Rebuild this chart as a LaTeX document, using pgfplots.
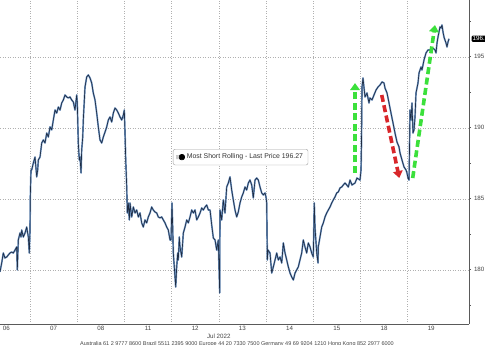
\documentclass[border=0pt]{standalone}
\usepackage{fontspec}
\setmainfont{Liberation Sans}
\usepackage{pgfplots}
\usepackage{pgfplotstable}
\pgfplotsset{compat=1.18}
\usetikzlibrary{arrows.meta}
\definecolor{linedark}{HTML}{1F2D44}
\definecolor{lineblue}{HTML}{6F95C4}
\definecolor{arrgreen}{HTML}{3BE03B}
\definecolor{arrred}{HTML}{D8262A}
\definecolor{gridc}{HTML}{B0B0B0}
\definecolor{axc}{HTML}{5A5A5A}
\definecolor{txt}{HTML}{454545}

\pgfplotstableread{
x y
0.364 179.85
0.400 180.48
0.434 181.18
0.470 180.83
0.506 180.90
0.540 181.04
0.576 181.18
0.612 181.25
0.646 181.18
0.682 181.39
0.718 181.61
0.731 179.99
0.752 182.10
0.788 182.59
0.809 182.31
0.824 182.80
0.858 182.31
0.894 182.59
0.930 183.01
0.964 182.31
0.985 181.18
1.000 182.80
1.006 185.13
1.021 187.03
1.036 187.03
1.070 187.52
1.106 187.94
1.142 186.54
1.163 187.03
1.176 187.73
1.212 187.94
1.248 188.93
1.282 189.14
1.318 188.93
1.354 189.63
1.388 189.35
1.424 190.06
1.460 189.85
1.494 190.55
1.530 191.25
1.566 191.04
1.600 191.46
1.636 191.25
1.672 191.75
1.706 191.96
1.742 192.31
1.778 192.17
1.811 192.10
1.847 192.17
1.883 191.96
1.917 191.82
1.953 191.25
1.989 192.31
2.002 191.75
2.023 188.93
2.044 187.73
2.059 187.94
2.081 186.82
2.095 188.44
2.117 189.35
2.129 190.55
2.165 192.87
2.201 193.58
2.235 193.72
2.271 193.51
2.307 193.15
2.341 192.45
2.377 191.96
2.413 191.04
2.447 190.06
2.483 189.14
2.519 188.93
2.553 189.35
2.589 189.70
2.625 190.06
2.659 190.55
2.695 190.76
2.731 190.41
2.765 191.04
2.801 191.39
2.837 191.25
2.871 191.04
2.907 190.76
2.943 190.55
2.977 190.90
2.998 191.25
3.013 189.63
3.028 187.73
3.049 185.83
3.062 184.00
3.083 184.70
3.104 183.51
3.119 184.70
3.155 183.72
3.189 184.42
3.225 184.00
3.261 184.21
3.295 183.72
3.331 184.00
3.366 183.30
3.400 183.01
3.436 183.51
3.472 183.30
3.506 183.72
3.542 184.00
3.578 184.42
3.612 184.21
3.648 184.07
3.684 184.00
3.718 183.72
3.754 183.65
3.790 183.72
3.824 183.51
3.860 183.30
3.896 183.01
3.930 182.80
3.966 182.10
3.987 182.10
4.008 184.70
4.023 183.01
4.036 181.18
4.072 179.49
4.087 178.79
4.108 180.20
4.129 181.18
4.142 180.69
4.163 182.31
4.178 181.61
4.214 180.90
4.248 182.59
4.284 183.01
4.320 183.51
4.354 183.30
4.390 183.72
4.426 184.21
4.460 184.00
4.496 184.21
4.532 183.51
4.566 183.72
4.602 184.00
4.638 184.35
4.672 184.21
4.708 184.42
4.744 184.56
4.778 184.21
4.814 184.21
4.850 183.15
4.884 182.24
4.920 182.10
4.955 181.39
4.989 182.10
5.019 178.37
5.025 184.21
5.061 183.51
5.095 184.92
5.131 184.00
5.167 185.83
5.201 186.11
5.237 186.54
5.273 185.62
5.307 184.92
5.343 184.21
5.379 183.72
5.413 184.07
5.449 184.70
5.485 185.13
5.519 185.41
5.555 185.83
5.591 185.62
5.625 186.11
5.661 186.32
5.697 185.97
5.731 185.06
5.767 186.32
5.803 186.46
5.837 186.32
5.873 185.83
5.909 185.41
5.943 185.27
5.979 185.41
6.000 185.13
6.015 184.70
6.028 180.69
6.042 181.39
6.085 181.18
6.121 179.77
6.155 180.20
6.191 180.69
6.227 181.18
6.261 180.69
6.297 180.90
6.333 180.48
6.367 181.89
6.403 181.18
6.439 180.69
6.473 180.20
6.509 179.77
6.545 179.49
6.579 179.28
6.615 179.77
6.650 179.99
6.684 180.20
6.720 180.69
6.756 181.18
6.790 182.10
6.826 181.61
6.862 181.18
6.896 181.89
6.932 181.61
6.968 181.18
7.002 180.90
7.023 184.70
7.038 183.01
7.074 181.18
7.102 180.48
7.108 181.61
7.144 182.31
7.180 183.01
7.214 183.30
7.250 183.72
7.286 184.00
7.320 184.21
7.356 184.42
7.392 184.70
7.426 184.92
7.462 185.13
7.498 185.41
7.532 185.48
7.568 185.76
7.604 185.83
7.638 185.97
7.674 186.11
7.710 185.97
7.744 185.83
7.780 186.32
7.822 185.97
7.886 186.11
7.928 186.46
7.992 186.32
8.013 187.03
8.024 189.14
8.034 192.87
8.055 193.51
8.097 192.17
8.140 192.45
8.182 191.75
8.203 192.10
8.246 191.96
8.288 192.31
8.331 192.66
8.373 192.87
8.415 193.01
8.458 193.23
8.500 193.15
8.521 192.80
8.564 192.45
8.606 191.75
8.648 191.04
8.691 190.34
8.733 189.63
8.775 189.00
8.818 188.65
8.839 188.23
8.881 187.73
8.924 187.24
8.966 187.03
8.987 186.82
9.008 186.46
9.030 186.32
9.040 188.44
9.051 191.25
9.072 190.55
9.093 191.75
9.114 189.63
9.136 189.85
9.157 190.76
9.178 192.45
9.220 193.15
9.242 193.86
9.284 194.28
9.305 194.07
9.347 194.77
9.390 195.27
9.432 195.48
9.475 195.48
9.517 195.62
9.559 195.55
9.580 195.48
9.602 195.27
9.623 195.97
9.644 196.39
9.665 196.75
9.686 197.10
9.708 197.03
9.729 197.24
9.750 196.75
9.771 196.39
9.792 196.18
9.814 195.97
9.835 195.69
9.856 196.04
9.877 196.27
}\pricedata

\begin{document}
\begin{tikzpicture}
\begin{axis}[
  name=ax,
  scale only axis, width=469pt, height=324pt,
  xmin=0.364, xmax=10.301, ymin=176.18, ymax=199.0,
  axis x line*=bottom, axis y line*=right,
  axis line style={draw=axc, line width=0.7pt, -},
  clip=false,
  xtick={1,2,3,4,5,6,7,8,9}, xticklabels={},
  xtick style={draw=none},
  extra x ticks={0.5,1.5,2.5,3.5,4.5,5.5,6.5,7.5,8.5,9.5},
  extra x tick labels={06,07,08,11,12,13,14,15,18,19},
  extra x tick style={grid=none, major tick length=0pt, xtick style={draw=none}},
  xmajorgrids, ymajorgrids,
  major grid style={draw=gridc, line width=0.5pt, dotted},
  ytick={180,185,190,195}, yticklabels={180,185,190,195},
  minor ytick={177.5,182.5,187.5,192.5,197.5},
  tick align=outside,
  major tick length=2pt, minor tick length=1.5pt,
  ytick style={draw=axc, line width=0.7pt},
  tick label style={font=\fontsize{6.2}{7}\selectfont, text=txt},
  xticklabel style={yshift=1pt},
  yticklabel style={xshift=-0.5pt},
  legend style={at={(0.513,0.515)}, anchor=center, draw=gray!75, rounded corners=2pt,
    font=\fontsize{6.9}{8}\selectfont, text=black!80, inner xsep=3pt, inner ysep=2.6pt, fill=white,
    cells={anchor=west}},
  legend image code/.code={
    \fill[gray!45] (0pt,-1.6pt) rectangle (1.7pt,1.6pt);
    \fill[black] (2.8pt,-2.6pt) rectangle (8pt,2.6pt);},
]
\addplot[forget plot, lineblue, line width=1.7pt, line join=round] table[x=x, y=y] {\pricedata};
\addplot[linedark, line width=0.65pt, line join=round] table[x=x, y=y] {\pricedata};
\addlegendentry{Most Short Rolling - Last Price 196.27}

\addplot[forget plot, arrgreen, line width=3.6pt, dash pattern=on 7pt off 3.5pt,
  -{Triangle[width=9.5pt,length=7pt]}] coordinates {(7.886,186.82) (7.886,193.15)};
\addplot[forget plot, arrred, line width=3.6pt, dash pattern=on 7pt off 3.5pt,
  -{Triangle[width=9.5pt,length=7pt]}] coordinates {(8.452,192.31) (8.824,186.46)};
\addplot[forget plot, arrgreen, line width=3.6pt, dash pattern=on 7pt off 3.5pt,
  -{Triangle[width=9.5pt,length=7pt]}] coordinates {(9.108,186.46) (9.580,197.24)};

\node[anchor=west, fill=black, text=white, rounded corners=1pt, inner sep=0.9pt,
  font=\fontsize{6.2}{7}\selectfont] at ([xshift=2.5pt]axis cs:10.301,196.27) {196.27};
\node[font=\fontsize{6.2}{7}\selectfont, text=txt] at ([yshift=-12.5pt]axis cs:5,176.18) {Jul 2022};
\node[anchor=north, inner sep=0pt, font=\fontsize{5.5}{6}\selectfont, text=txt]
  at ([yshift=-17.5pt]axis cs:5.386,176.18)
  {Australia 61 2 9777 8600 Brazil 5511 2395 9000 Europe 44 20 7330 7500 Germany 49 69 9204 1210 Hong Kong 852 2977 6000};
\end{axis}
\pgfresetboundingbox
\path[use as bounding box] ([yshift=-20pt]ax.south west) rectangle ([xshift=16pt]ax.north east);
\end{tikzpicture}
\end{document}
